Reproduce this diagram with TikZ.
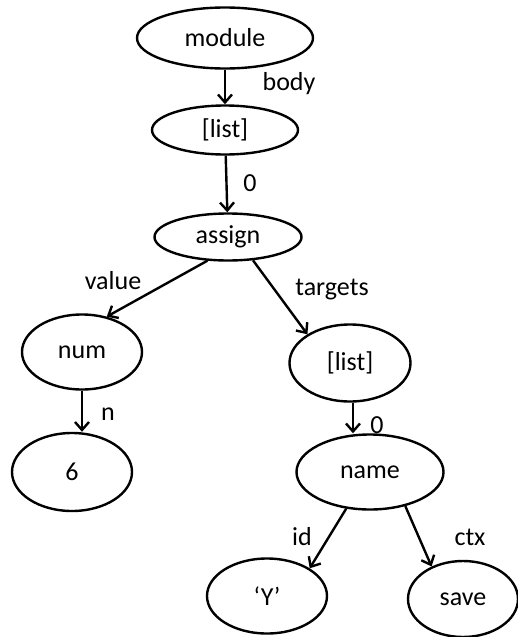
\documentclass[tikz,border=0pt]{standalone}
\usepackage{fontspec}
\setmainfont{Carlito}
\usetikzlibrary{shapes.geometric,arrows.meta}
\tikzset{
  tnode/.style={draw=black, line width=2.4pt, ellipse, inner sep=0pt,
    font=\fontsize{26}{31}\selectfont},
  edgelbl/.style={font=\fontsize{26}{31}\selectfont, inner sep=0pt},
  link/.style={line width=2.4pt, -{Straight Barb[length=8pt,width=14pt,line width=2.4pt]}}
}
\begin{document}
\begin{tikzpicture}[x=1pt,y=-1pt]
  \useasboundingbox (0,0) rectangle (518,637);
  % tree nodes
  \node[tnode, minimum width=176pt, minimum height=61pt] (module) at (225,38) {module};
  \node[tnode, minimum width=146pt, minimum height=49pt] (list1) at (225,130) {[list]};
  \node[tnode, minimum width=147pt, minimum height=47pt] (assign) at (228,237) {assign};
  \node[tnode, minimum width=120pt, minimum height=75pt] (num) at (82,352) {num};
  \node[tnode, minimum width=120pt, minimum height=78pt] (six) at (72,472) {6};
  \node[tnode, minimum width=121pt, minimum height=77pt] (list2) at (350,363) {[list]};
  \node[tnode, minimum width=147pt, minimum height=75pt] (name) at (370,472) {name};
  \node[tnode, minimum width=120pt, minimum height=75pt] (yid) at (267,596) {‘Y’};
  \node[tnode, minimum width=110pt, minimum height=76pt] (save) at (463,599) {save};
  % connectors
  \draw[link] (module.south) -- (list1.north);
  \draw[link] (list1) -- (assign);
  \draw[link] (assign.229) -- (num.55);
  \draw[link] (assign.317) -- (list2.146);
  \draw[link] (num.south) -- (num.south |- six.north);
  \draw[link] ([xshift=3pt]list2.south) -- ([xshift=3pt]list2.south |- name.north);
  \draw[link] (name.237) -- (yid.33);
  \draw[link] (name.316) -- (save.134);
  % edge labels
  \node[edgelbl] (lbody) at (289,84) {body};
  \node[edgelbl] (lzero1) at (250,183) {0};
  \node[edgelbl] (lvalue) at (113,281) {value};
  \node[edgelbl] (ltargets) at (332,290) {targets};
  \node[edgelbl] (ln) at (108,414) {n};
  \node[edgelbl] (lzero2) at (377,425) {0};
  \node[edgelbl] (lid) at (302,537) {id};
  \node[edgelbl] (lctx) at (470,537) {ctx};
\end{tikzpicture}
\end{document}
